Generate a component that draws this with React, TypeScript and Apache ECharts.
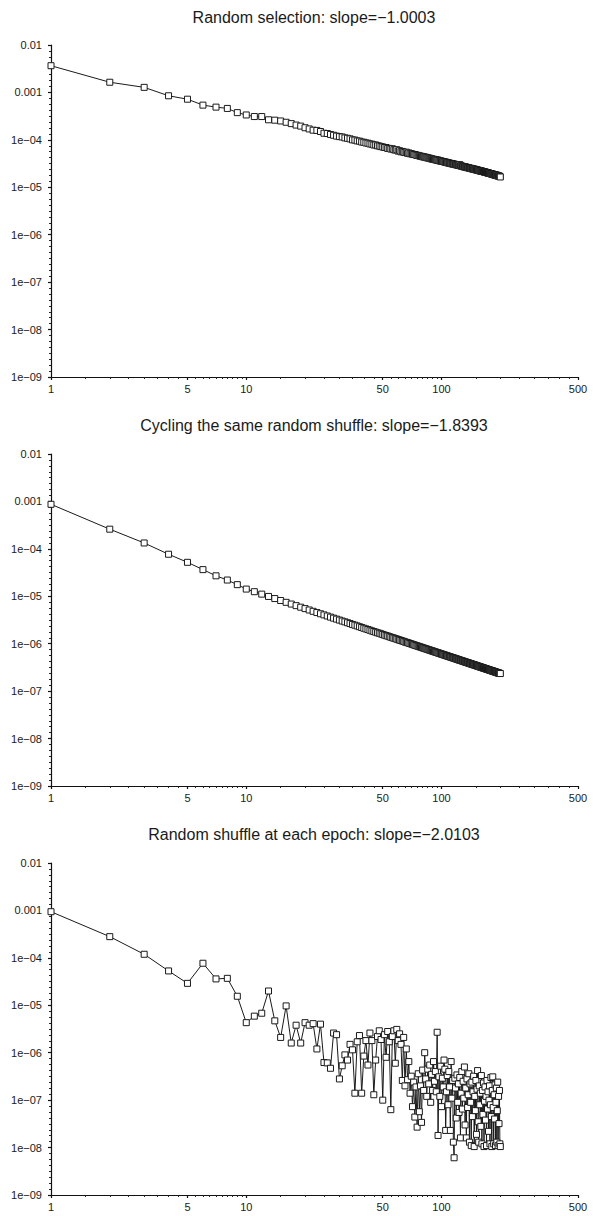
import { useEffect, useRef } from "react";
import * as echarts from "echarts";

const epochs: number[] = Array.from({ length: 200 }, (_, i) => i + 1);

const titles = [
  "Random selection: slope=\u22121.0003",
  "Cycling the same random shuffle: slope=\u22121.8393",
  "Random shuffle at each epoch: slope=\u22122.0103",
];

const randomSelection = [
  3.66e-3, 1.64e-3, 1.28e-3, 8.5e-4, 7.2e-4, 5.4e-4, 4.9e-4, 4.6e-4, 3.75e-4, 3.35e-4,
  3.1e-4, 3.1e-4, 2.65e-4, 2.6e-4, 2.5e-4, 2.35e-4, 2.2e-4, 2.05e-4, 1.95e-4, 1.8e-4,
  1.7e-4, 1.6e-4, 1.58e-4, 1.5e-4, 1.38e-4, 1.36e-4, 1.3e-4, 1.25e-4, 1.2e-4, 1.17e-4,
  1.15e-4, 1.1e-4, 1.08e-4, 1.05e-4, 1.0e-4, 9.9e-5, 9.5e-5, 9.4e-5, 9.0e-5, 8.9e-5,
  8.6e-5, 8.5e-5, 8.2e-5, 8.1e-5, 7.8e-5, 7.8e-5, 7.5e-5, 7.4e-5, 7.2e-5, 7.1e-5,
  6.9e-5, 6.9e-5, 6.6e-5, 6.6e-5, 6.4e-5, 6.5e-5, 6.2e-5, 6.1e-5, 6.2e-5, 5.8e-5,
  5.9e-5, 5.6e-5, 5.7e-5, 5.5e-5, 5.4e-5, 5.5e-5, 5.2e-5, 5.3e-5, 5.1e-5, 5.1e-5,
  5.0e-5, 4.9e-5, 4.9e-5, 4.8e-5, 4.7e-5, 4.7e-5, 4.6e-5, 4.5e-5, 4.5e-5, 4.4e-5,
  4.4e-5, 4.3e-5, 4.3e-5, 4.2e-5, 4.2e-5, 4.1e-5, 4.1e-5, 4.0e-5, 4.0e-5, 3.9e-5,
  3.9e-5, 3.85e-5, 3.8e-5, 3.8e-5, 3.7e-5, 3.75e-5, 3.65e-5, 3.6e-5, 3.6e-5, 3.55e-5,
  3.5e-5, 3.5e-5, 3.45e-5, 3.4e-5, 3.4e-5, 3.35e-5, 3.3e-5, 3.3e-5, 3.25e-5, 3.2e-5,
  3.2e-5, 3.15e-5, 3.15e-5, 3.1e-5, 3.1e-5, 3.05e-5, 3.05e-5, 3.0e-5, 3.0e-5, 2.95e-5,
  2.95e-5, 2.9e-5, 2.95e-5, 3.0e-5, 2.85e-5, 2.8e-5, 2.8e-5, 2.75e-5, 2.75e-5, 2.7e-5,
  2.7e-5, 2.7e-5, 2.65e-5, 2.65e-5, 2.6e-5, 2.6e-5, 2.6e-5, 2.55e-5, 2.55e-5, 2.5e-5,
  2.5e-5, 2.5e-5, 2.45e-5, 2.45e-5, 2.45e-5, 2.4e-5, 2.4e-5, 2.4e-5, 2.35e-5, 2.35e-5,
  2.35e-5, 2.3e-5, 2.3e-5, 2.3e-5, 2.25e-5, 2.25e-5, 2.25e-5, 2.2e-5, 2.2e-5, 2.2e-5,
  2.2e-5, 2.15e-5, 2.15e-5, 2.15e-5, 2.1e-5, 2.1e-5, 2.1e-5, 2.1e-5, 2.05e-5, 2.05e-5,
  2.05e-5, 2.0e-5, 2.0e-5, 2.0e-5, 2.0e-5, 1.95e-5, 1.95e-5, 1.95e-5, 1.95e-5, 1.9e-5,
  1.9e-5, 1.9e-5, 1.9e-5, 1.85e-5, 1.85e-5, 1.85e-5, 1.85e-5, 1.8e-5, 1.8e-5, 1.8e-5,
  1.8e-5, 1.8e-5, 1.75e-5, 1.75e-5, 1.75e-5, 1.75e-5, 1.7e-5, 1.7e-5, 1.7e-5, 1.65e-5,
];

const cyclingShuffle = [
  8.7e-4, 2.6e-4, 1.33e-4, 7.7e-5, 5.2e-5, 3.65e-5, 2.7e-5, 2.2e-5, 1.76e-5, 1.42e-5,
  1.25e-5, 1.11e-5, 9.92e-6, 8.96e-6, 8.15e-6, 7.46e-6, 6.86e-6, 6.35e-6, 5.89e-6, 5.5e-6,
  5.14e-6, 4.82e-6, 4.54e-6, 4.28e-6, 4.05e-6, 3.84e-6, 3.64e-6, 3.46e-6, 3.3e-6, 3.15e-6,
  3.01e-6, 2.89e-6, 2.77e-6, 2.66e-6, 2.55e-6, 2.46e-6, 2.37e-6, 2.28e-6, 2.2e-6, 2.12e-6,
  2.05e-6, 1.99e-6, 1.92e-6, 1.86e-6, 1.81e-6, 1.75e-6, 1.7e-6, 1.66e-6, 1.61e-6, 1.57e-6,
  1.52e-6, 1.48e-6, 1.45e-6, 1.41e-6, 1.37e-6, 1.34e-6, 1.31e-6, 1.28e-6, 1.25e-6, 1.22e-6,
  1.19e-6, 1.17e-6, 1.14e-6, 1.12e-6, 1.09e-6, 1.07e-6, 1.05e-6, 1.03e-6, 1.01e-6, 9.88e-7,
  9.69e-7, 9.5e-7, 9.32e-7, 9.15e-7, 8.98e-7, 8.82e-7, 8.67e-7, 8.51e-7, 8.37e-7, 8.22e-7,
  8.08e-7, 7.95e-7, 7.82e-7, 7.69e-7, 7.57e-7, 7.45e-7, 7.33e-7, 7.21e-7, 7.1e-7, 7.0e-7,
  6.9e-7, 6.79e-7, 6.69e-7, 6.59e-7, 6.5e-7, 6.41e-7, 6.32e-7, 6.23e-7, 6.14e-7, 6.06e-7,
  5.98e-7, 5.9e-7, 5.82e-7, 5.74e-7, 5.67e-7, 5.6e-7, 5.52e-7, 5.45e-7, 5.39e-7, 5.32e-7,
  5.25e-7, 5.19e-7, 5.13e-7, 5.06e-7, 5.0e-7, 4.95e-7, 4.89e-7, 4.83e-7, 4.78e-7, 4.72e-7,
  4.67e-7, 4.61e-7, 4.56e-7, 4.51e-7, 4.46e-7, 4.42e-7, 4.37e-7, 4.32e-7, 4.28e-7, 4.23e-7,
  4.19e-7, 4.14e-7, 4.1e-7, 4.06e-7, 4.02e-7, 3.98e-7, 3.94e-7, 3.9e-7, 3.86e-7, 3.82e-7,
  3.79e-7, 3.75e-7, 3.71e-7, 3.68e-7, 3.64e-7, 3.61e-7, 3.58e-7, 3.54e-7, 3.51e-7, 3.48e-7,
  3.45e-7, 3.42e-7, 3.38e-7, 3.35e-7, 3.33e-7, 3.3e-7, 3.27e-7, 3.24e-7, 3.21e-7, 3.18e-7,
  3.16e-7, 3.13e-7, 3.1e-7, 3.08e-7, 3.05e-7, 3.03e-7, 3.0e-7, 2.98e-7, 2.95e-7, 2.93e-7,
  2.91e-7, 2.88e-7, 2.86e-7, 2.84e-7, 2.82e-7, 2.79e-7, 2.77e-7, 2.75e-7, 2.73e-7, 2.71e-7,
  2.69e-7, 2.67e-7, 2.65e-7, 2.63e-7, 2.61e-7, 2.59e-7, 2.57e-7, 2.55e-7, 2.53e-7, 2.51e-7,
  2.5e-7, 2.48e-7, 2.46e-7, 2.44e-7, 2.43e-7, 2.41e-7, 2.39e-7, 2.38e-7, 2.36e-7, 2.35e-7,
];

const shuffleEachEpoch = [
  9.4e-4, 2.8e-4, 1.19e-4, 5.3e-5, 2.9e-5, 7.7e-5, 3.6e-5, 3.7e-5, 1.55e-5, 4.3e-6,
  5.9e-6, 6.8e-6, 2.0e-5, 4.7e-6, 2.1e-6, 9.7e-6, 1.6e-6, 3.8e-6, 1.6e-6, 4.3e-6,
  3.8e-6, 4.1e-6, 1.2e-6, 4.0e-6, 6.2e-7, 6.1e-7, 4.7e-7, 2.6e-6, 2.4e-6, 2.8e-7,
  5.3e-7, 9.0e-7, 7.0e-7, 1.5e-6, 1.15e-6, 1.4e-7, 1.7e-6, 2.3e-6, 1.4e-7, 8.5e-7,
  1.8e-6, 5.5e-7, 2.6e-6, 1.8e-6, 1.3e-7, 7.0e-7, 2.2e-6, 2.9e-6, 1.9e-6, 1.0e-7,
  2.4e-6, 8.0e-7, 2.8e-6, 1.7e-6, 6.3e-8, 2.2e-6, 2.9e-6, 6.0e-7, 3.1e-6, 1.8e-6,
  2.5e-6, 1.5e-6, 2.6e-7, 2.1e-6, 2.0e-7, 1.2e-6, 2.7e-7, 6.5e-7, 1.4e-7, 3.2e-7,
  7.3e-8, 2.4e-7, 4.4e-8, 1.9e-7, 2.7e-8, 3.6e-7, 5.7e-8, 2.0e-7, 3.4e-8, 4.3e-7,
  1.6e-7, 1.0e-6, 2.8e-7, 1.2e-7, 4.5e-7, 2.2e-7, 5.5e-7, 9.0e-8, 3.5e-7, 1.6e-7,
  6.5e-7, 2.5e-7, 4.0e-7, 1.5e-7, 2.7e-6, 1.8e-8, 3.1e-7, 1.2e-7, 5.2e-7, 7.3e-8,
  2.9e-7, 1.9e-7, 7.0e-7, 4.5e-7, 2.3e-8, 1.5e-7, 3.3e-7, 8.0e-8, 4.0e-7, 1.9e-7,
  2.3e-8, 6.5e-7, 1.1e-7, 2.6e-7, 1.3e-8, 6.1e-9, 2.9e-7, 1.8e-7, 4.2e-8, 3.4e-7,
  9.0e-8, 2.2e-7, 5.5e-8, 3.0e-7, 1.6e-8, 1.4e-7, 4.0e-7, 6.5e-8, 2.5e-7, 1.1e-7,
  5.0e-7, 3.0e-8, 1.8e-7, 1.6e-8, 2.8e-7, 7.0e-8, 1.3e-7, 3.6e-7, 1.3e-8, 2.2e-7,
  9.0e-8, 1.1e-8, 2.4e-7, 4.5e-8, 1.5e-7, 3.2e-7, 1.05e-8, 1.2e-7, 6.0e-8, 2.6e-7,
  1.9e-8, 1.7e-7, 4.2e-7, 3.5e-8, 1.3e-8, 2.0e-7, 8.0e-8, 1.4e-7, 2.8e-8, 3.3e-7,
  1.2e-8, 1.6e-7, 5.0e-8, 2.3e-7, 1.05e-8, 9.5e-8, 1.9e-7, 3.8e-8, 1.2e-7, 1.1e-8,
  2.6e-7, 6.5e-8, 1.5e-7, 2.2e-8, 1.0e-7, 2.0e-7, 1.2e-8, 8.0e-8, 3.0e-7, 4.5e-8,
  1.05e-8, 1.6e-7, 3.1e-7, 7.0e-8, 1.2e-8, 1.3e-7, 4.0e-8, 2.1e-7, 1.1e-8, 9.0e-8,
  1.8e-7, 1.3e-8, 6.0e-8, 2.4e-7, 1.1e-8, 1.2e-7, 3.2e-8, 1.6e-7, 1.2e-8, 1.05e-8,
];

const panels = [randomSelection, cyclingShuffle, shuffleEachEpoch];

const xTickValues = [1, 5, 10, 50, 100, 500];
const xMinorTickValues = [
  1.5, 2, 2.5, 3, 3.5, 4, 4.5, 5.5, 6, 6.5, 7, 7.5, 8, 8.5, 9, 9.5,
  15, 20, 25, 30, 35, 40, 45, 55, 60, 65, 70, 75, 80, 85, 90, 95,
  150, 200, 250, 300, 350, 400, 450,
];
const yTickValues = [1e-9, 1e-8, 1e-7, 1e-6, 1e-5, 1e-4, 1e-3, 1e-2];
const yTickLabels = ["1e\u221209", "1e\u221208", "1e\u221207", "1e\u221206", "1e\u221205", "1e\u221204", "0.001", "0.01"];

const FONT = "Liberation Sans, Arial, Helvetica, sans-serif";
const GRID_TOPS = [45, 454, 863];
const GRID_H = 332;
const TITLE_TOPS = [9, 417, 826];

function yMinorTicks(): number[] {
  const out: number[] = [];
  for (let e = -9; e < -2; e++) {
    for (let k = 1; k < 8; k++) out.push(Math.pow(10, e + k / 8));
  }
  return out;
}

function xLabel(v: number): string {
  const hit = xTickValues.find((t) => Math.abs(Math.log10(t) - Math.log10(v)) < 1e-6);
  return hit === undefined ? "" : String(hit);
}

function yLabel(v: number): string {
  const idx = yTickValues.findIndex((t) => Math.abs(Math.log10(t) - Math.log10(v)) < 1e-6);
  return idx >= 0 ? yTickLabels[idx] : "";
}

export default function App() {
  const ref = useRef<HTMLDivElement>(null);
  useEffect(() => {
    if (!ref.current) return;
    const chart = echarts.init(ref.current, null, { renderer: "svg" });
    const yMinor = yMinorTicks();
    const grids: any[] = [];
    const xAxes: any[] = [];
    const yAxes: any[] = [];
    const series: any[] = [];
    const title: any[] = [];
    panels.forEach((vals, i) => {
      grids.push({ left: 51, right: 18, top: GRID_TOPS[i], height: GRID_H, containLabel: false });
      title.push({
        text: titles[i],
        left: 314,
        top: TITLE_TOPS[i],
        textAlign: "center",
        padding: 0,
        textStyle: { fontSize: 16, fontWeight: "normal", color: "#1a1a1a", fontFamily: FONT },
      });
      xAxes.push({
        gridIndex: i,
        type: "log",
        logBase: 10,
        min: 1,
        max: 500,
        position: "bottom",
        axisLine: { show: true, lineStyle: { color: "#111", width: 1.2 } },
        axisTick: { show: true, customValues: xTickValues, length: 3, lineStyle: { color: "#111", width: 1.2 } },
        axisLabel: {
          customValues: xTickValues,
          formatter: xLabel,
          fontSize: 11,
          color: "#1a1a1a",
          margin: 6,
          fontFamily: FONT,
        },
        splitLine: { show: false },
        minorTick: { show: false },
      });
      xAxes.push({
        gridIndex: i,
        type: "log",
        logBase: 10,
        min: 1,
        max: 500,
        position: "bottom",
        axisLine: { show: false },
        axisTick: { show: true, customValues: xMinorTickValues, length: 2, lineStyle: { color: "#222", width: 1 } },
        axisLabel: { show: false, formatter: () => "" },
        splitLine: { show: false },
      });
      yAxes.push({
        gridIndex: i,
        type: "log",
        logBase: 10,
        min: 1e-9,
        max: 1e-2,
        position: "left",
        axisLine: { show: true, lineStyle: { color: "#111", width: 1.2 } },
        axisTick: { show: true, customValues: yTickValues, length: 3, lineStyle: { color: "#111", width: 1.2 } },
        axisLabel: {
          customValues: yTickValues,
          formatter: yLabel,
          fontSize: 11,
          color: "#1a1a1a",
          margin: 9,
          fontFamily: FONT,
        },
        splitLine: { show: false },
      });
      yAxes.push({
        gridIndex: i,
        type: "log",
        logBase: 10,
        min: 1e-9,
        max: 1e-2,
        position: "left",
        axisLine: { show: false },
        axisTick: { show: true, customValues: yMinor, length: 2, lineStyle: { color: "#222", width: 1 } },
        axisLabel: { show: false, formatter: () => "" },
        splitLine: { show: false },
      });
      series.push({
        type: "line",
        xAxisIndex: i * 2,
        yAxisIndex: i * 2,
        data: epochs.map((x, j) => [x, vals[j]]),
        symbol: "rect",
        symbolSize: 6,
        showSymbol: true,
        showAllSymbol: true,
        lineStyle: { color: "#1a1a1a", width: 1 },
        itemStyle: { color: "#ffffff", borderColor: "#1a1a1a", borderWidth: 1 },
        emphasis: { disabled: true },
        silent: true,
      });
    });
    chart.setOption({
      animation: false,
      backgroundColor: "#ffffff",
      title,
      grid: grids,
      xAxis: xAxes,
      yAxis: yAxes,
      series,
    });
    return () => chart.dispose();
  }, []);
  return (
    <div
      ref={ref}
      style={{ position: "absolute", left: 0, top: 0, width: 596, height: 1216, background: "#fff" }}
    />
  );
}
